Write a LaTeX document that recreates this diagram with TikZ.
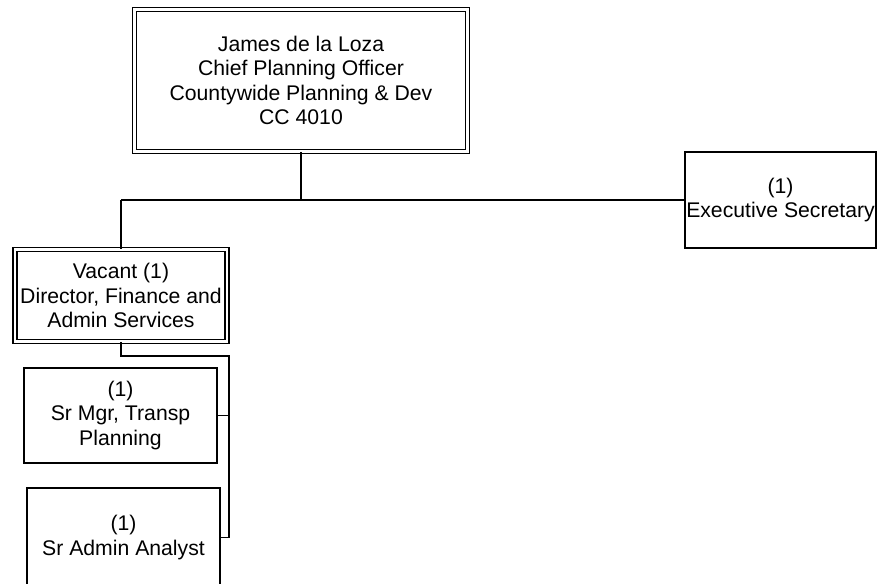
\documentclass[tikz,border=0pt]{standalone}
\usepackage{fontspec}
\setmainfont{Liberation Sans}
\begin{document}
\begin{tikzpicture}[x=1pt,y=-1pt,
  box/.style={draw, line width=1.4pt, inner sep=0pt, align=center,
    font=\fontsize{21.2}{24.5}\selectfont},
  dbox/.style={box, line width=1.3pt, double, double distance=2.8pt},
  conn/.style={line width=1.4pt}]
\useasboundingbox (0,0) rectangle (882,583);
\clip (0,0) rectangle (882,583);
\node[dbox, minimum width=333pt, minimum height=142pt] (top) at (301,80.5)
  {James de la Loza\\Chief Planning Officer\\Countywide Planning \& Dev\\CC 4010};
\node[box, minimum width=191pt, minimum height=96pt] (exec) at (780.5,200)
  {(1)\\Executive Secretary};
\node[dbox, minimum width=212pt, minimum height=92pt] (dir) at (121,295.5)
  {Vacant (1)\\Director, Finance and\\Admin Services};
\node[box, minimum width=193pt, minimum height=95pt] (srmgr) at (120.5,415.5)
  {(1)\\Sr Mgr, Transp\\Planning};
\node[box, minimum width=193pt, minimum height=99pt] (sradmin) at (123.5,537.5)
  {(1)\\Sr Admin Analyst};
\coordinate (j1) at (301,200);
\coordinate (j2) at (121,200);
\coordinate (j3) at (121,356);
\coordinate (j4) at (229,356);
\draw[conn] (top.south) -- (j1);
\draw[conn] (j2) -- (exec.west);
\draw[conn] (j2) -- (dir.north);
\draw[conn] (dir.south) -- (j3) -- (j4) -- (j4 |- sradmin.east) -- (sradmin.east);
\draw[conn] (j4 |- srmgr.east) -- (srmgr.east);
\end{tikzpicture}
\end{document}
